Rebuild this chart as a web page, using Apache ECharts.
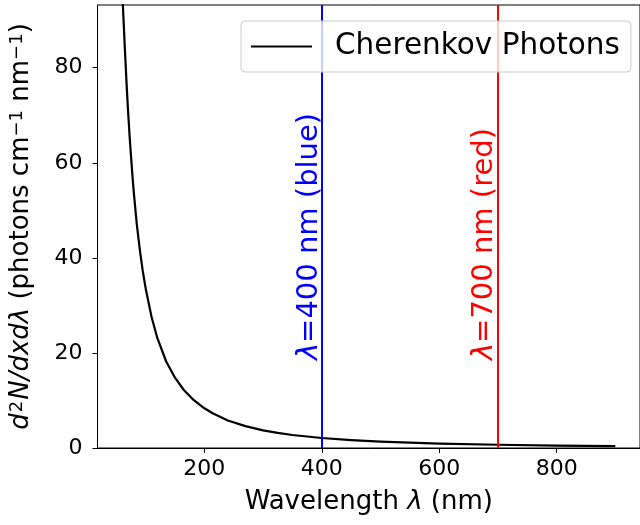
<!DOCTYPE html>
<html><head><meta charset="utf-8">
<script src="https://cdn.jsdelivr.net/npm/echarts@6/dist/echarts.min.js"></script>
<style>html,body{margin:0;padding:0;background:#fff}#c{width:640px;height:525px}</style>
</head><body><div id="c"></div><script>
// Data
const wavelengths = [60, 62, 65, 68, 70, 73, 75, 78, 80, 85, 90, 95, 100, 110, 120, 135, 150, 165, 180, 200, 215, 240, 270, 300, 325, 350, 400, 450, 500, 550, 600, 700, 800, 900];
const photons     = [97, 91, 83, 75.5, 71, 65, 61.5, 56.5, 53.5, 47, 41.8, 37.3, 33.6, 27.6, 23.1, 18.2, 14.8, 12.2, 10.3, 8.35, 7.25, 5.8, 4.6, 3.72, 3.18, 2.74, 2.1, 1.66, 1.34, 1.11, 0.93, 0.68, 0.52, 0.41];
const xTicks = [200, 400, 600, 800];
const yTicks = [0, 20, 40, 60, 80];
const markerWavelengths = [400, 700];
const markerNames = ['400 nm (blue)', '700 nm (red)'];
const markerLabelX = [404, 701];
const markerLabelY = 18.5;
const seriesName = 'Cherenkov Photons';

const FONT = 'DejaVu Sans';
const markerColors = ['#0000ff', '#ff0000'];
const chart = echarts.init(document.getElementById('c'), null, {renderer: 'canvas'});
const curve = wavelengths.map((w, i) => [w, photons[i]]);

const nameRich = {
  i: {fontSize: 26, fontStyle: 'italic', fontFamily: FONT, color: '#000'},
  sup: {fontSize: 18, fontFamily: FONT, color: '#000', verticalAlign: 'top', padding: [0, 0, 8, 0]},
  isup: {fontSize: 18, fontStyle: 'normal', fontFamily: FONT, color: '#000', verticalAlign: 'top', padding: [0, 1, 8, 1]}
};

chart.setOption({
  animation: false,
  backgroundColor: '#fff',
  textStyle: {fontFamily: FONT},
  grid: {left: 97.5, top: 5, width: 548, height: 443, show: true, borderColor: '#000', borderWidth: 1, backgroundColor: 'transparent'},
  xAxis: {
    type: 'value', min: 18, max: 942,
    name: 'Wavelength {i|λ} (nm)', nameLocation: 'middle', nameGap: 41,
    nameTextStyle: {fontSize: 26, color: '#000', fontFamily: FONT, rich: nameRich},
    axisLine: {show: true, onZero: false, lineStyle: {color: '#000', width: 1}},
    axisTick: {show: true, length: 5, inside: false, customValues: xTicks, lineStyle: {color: '#000', width: 1}},
    axisLabel: {fontSize: 22, color: '#000', margin: 10, fontFamily: FONT, customValues: xTicks},
    splitLine: {show: false}
  },
  yAxis: {
    type: 'value', min: 0, max: 93.2,
    name: '{i|d}{isup|2}{i|N/dxdλ} (photons cm{sup|−1} nm{sup|−1})', nameLocation: 'middle', nameRotate: 90, nameGap: 63,
    nameTextStyle: {fontSize: 26, color: '#000', fontFamily: FONT, rich: nameRich},
    axisLine: {show: true, onZero: false, lineStyle: {color: '#000', width: 1}},
    axisTick: {show: true, length: 5, inside: false, customValues: yTicks, lineStyle: {color: '#000', width: 1}},
    axisLabel: {fontSize: 22, color: '#000', margin: 15, fontFamily: FONT, customValues: yTicks},
    splitLine: {show: false}
  },
  legend: {
    data: [seriesName], left: 241, top: 21, orient: 'horizontal',
    icon: 'rect', itemWidth: 61, itemHeight: 2,
    padding: [8, 11, 8, 10],
    backgroundColor: 'rgba(255,255,255,0.8)', borderColor: '#cccccc', borderWidth: 1, borderRadius: 4,
    textStyle: {fontSize: 29.5, color: '#000', fontFamily: FONT, padding: [0, 0, 0, 18], lineHeight: 35},
    z: 10
  },
  series: [{
    name: seriesName, type: 'line', data: curve, showSymbol: false, symbol: 'none',
    smooth: false, clip: true,
    lineStyle: {color: '#000', width: 2.2, join: 'round', cap: 'butt'}, itemStyle: {color: '#000'},
    markLine: {
      silent: true, symbol: 'none', animation: false,
      label: {show: false},
      data: markerWavelengths.map((w, i) => ({xAxis: w, lineStyle: {color: markerColors[i], width: 2, type: 'solid'}}))
    },
    z: 3
  }]
});

const graphics = markerWavelengths.map((w, i) => {
  const p = chart.convertToPixel({gridIndex: 0}, [markerLabelX[i], markerLabelY]);
  return {
    type: 'text', x: p[0], y: p[1], rotation: Math.PI / 2, z: 5,
    style: {
      text: '{i|λ}=' + markerNames[i], fill: markerColors[i], fontSize: 29, fontFamily: FONT,
      align: 'left', verticalAlign: 'bottom',
      rich: {i: {fontSize: 29, fontStyle: 'italic', fontFamily: FONT, fill: markerColors[i]}}
    }
  };
});
chart.setOption({graphic: graphics});
</script></body></html>
